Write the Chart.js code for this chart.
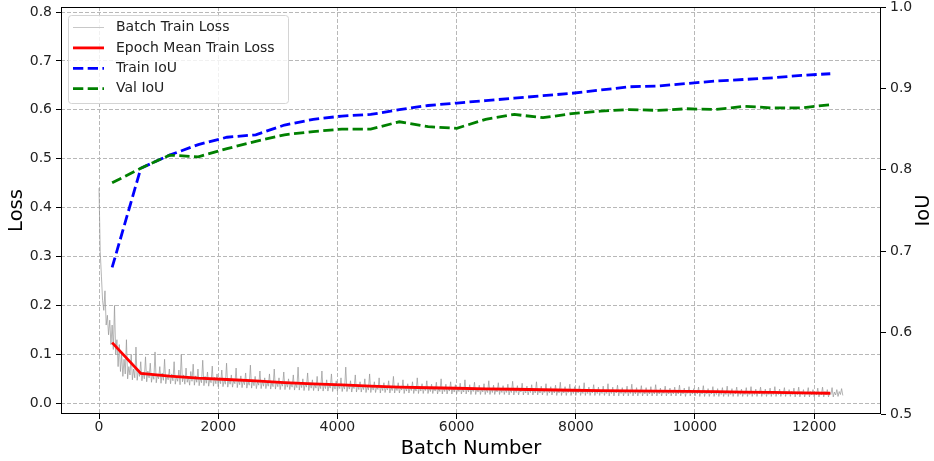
<!DOCTYPE html>
<html>
<head>
<meta charset="utf-8">
<script src="https://cdn.jsdelivr.net/npm/chart.js@4.4.0/dist/chart.umd.min.js"></script>
<style>
  html, body { margin: 0; padding: 0; background: #fff; }
  #wrap { width: 934px; height: 461px; }
</style>
</head>
<body>
<div id="wrap"><canvas id="chart" width="934" height="461"></canvas></div>
<script>
// one batch loss sample every 20 batches (rows of 400 batches)
const batchStep = 20;
const batchLoss = [
  0.44, 0.31, 0.26, 0.21, 0.19, 0.23, 0.16, 0.18, 0.14, 0.17, 0.12, 0.16, 0.11, 0.2, 0.1, 0.13, 0.075, 0.12, 0.065, 0.1,
  0.055, 0.09, 0.06, 0.13, 0.05, 0.075, 0.058, 0.1, 0.048, 0.07, 0.052, 0.115, 0.047, 0.068, 0.055, 0.085, 0.046, 0.064, 0.05, 0.095,
  0.044, 0.066, 0.052, 0.082, 0.043, 0.06, 0.049, 0.105, 0.042, 0.058, 0.05, 0.075, 0.041, 0.062, 0.047, 0.09, 0.04, 0.057, 0.048, 0.07,
  0.04, 0.06, 0.046, 0.085, 0.039, 0.055, 0.045, 0.068, 0.038, 0.1, 0.044, 0.058, 0.039, 0.072, 0.043, 0.054, 0.037, 0.065, 0.045, 0.08,
  0.037, 0.056, 0.043, 0.07, 0.036, 0.052, 0.042, 0.088, 0.036, 0.055, 0.041, 0.064, 0.035, 0.05, 0.042, 0.076, 0.035, 0.053, 0.04, 0.06,
  0.034, 0.052, 0.04, 0.068, 0.034, 0.048, 0.039, 0.082, 0.033, 0.05, 0.039, 0.058, 0.033, 0.047, 0.04, 0.072, 0.032, 0.049, 0.038, 0.056,
  0.032, 0.047, 0.038, 0.062, 0.031, 0.045, 0.037, 0.078, 0.031, 0.048, 0.036, 0.055, 0.03, 0.044, 0.037, 0.066, 0.03, 0.046, 0.035, 0.052,
  0.03, 0.044, 0.035, 0.06, 0.029, 0.043, 0.034, 0.07, 0.029, 0.045, 0.034, 0.052, 0.028, 0.042, 0.035, 0.064, 0.028, 0.044, 0.033, 0.05,
  0.028, 0.042, 0.033, 0.058, 0.027, 0.041, 0.032, 0.074, 0.027, 0.043, 0.032, 0.05, 0.026, 0.04, 0.033, 0.062, 0.026, 0.042, 0.031, 0.048,
  0.026, 0.04, 0.031, 0.055, 0.025, 0.039, 0.03, 0.066, 0.025, 0.041, 0.03, 0.048, 0.025, 0.038, 0.031, 0.06, 0.024, 0.04, 0.029, 0.046,
  0.025, 0.038, 0.03, 0.052, 0.024, 0.037, 0.029, 0.074, 0.024, 0.039, 0.029, 0.046, 0.023, 0.036, 0.03, 0.058, 0.023, 0.038, 0.028, 0.044,
  0.023, 0.036, 0.028, 0.05, 0.022, 0.035, 0.027, 0.06, 0.022, 0.037, 0.027, 0.044, 0.022, 0.034, 0.028, 0.052, 0.021, 0.036, 0.026, 0.042,
  0.022, 0.034, 0.027, 0.046, 0.021, 0.033, 0.026, 0.055, 0.021, 0.035, 0.026, 0.042, 0.021, 0.033, 0.027, 0.048, 0.02, 0.034, 0.025, 0.04,
  0.021, 0.033, 0.026, 0.044, 0.02, 0.032, 0.025, 0.052, 0.02, 0.034, 0.025, 0.04, 0.02, 0.032, 0.026, 0.046, 0.02, 0.033, 0.024, 0.039,
  0.02, 0.032, 0.025, 0.043, 0.019, 0.031, 0.024, 0.05, 0.019, 0.033, 0.024, 0.039, 0.019, 0.031, 0.025, 0.044, 0.019, 0.032, 0.023, 0.038,
  0.019, 0.031, 0.024, 0.041, 0.019, 0.03, 0.023, 0.048, 0.019, 0.032, 0.023, 0.038, 0.018, 0.03, 0.024, 0.043, 0.018, 0.031, 0.023, 0.037,
  0.018, 0.03, 0.023, 0.04, 0.018, 0.029, 0.022, 0.046, 0.018, 0.031, 0.022, 0.037, 0.018, 0.029, 0.023, 0.042, 0.018, 0.03, 0.022, 0.036,
  0.018, 0.029, 0.022, 0.039, 0.017, 0.028, 0.022, 0.045, 0.017, 0.03, 0.022, 0.036, 0.017, 0.028, 0.023, 0.041, 0.017, 0.029, 0.021, 0.035,
  0.017, 0.028, 0.022, 0.038, 0.017, 0.028, 0.021, 0.044, 0.017, 0.029, 0.021, 0.035, 0.017, 0.027, 0.022, 0.04, 0.016, 0.028, 0.021, 0.034,
  0.017, 0.028, 0.021, 0.037, 0.016, 0.027, 0.021, 0.043, 0.016, 0.028, 0.021, 0.034, 0.016, 0.027, 0.022, 0.039, 0.016, 0.028, 0.02, 0.034,
  0.016, 0.027, 0.021, 0.036, 0.016, 0.027, 0.02, 0.042, 0.016, 0.028, 0.02, 0.033, 0.016, 0.026, 0.021, 0.038, 0.016, 0.027, 0.02, 0.033,
  0.016, 0.027, 0.02, 0.035, 0.016, 0.026, 0.02, 0.04, 0.015, 0.027, 0.02, 0.033, 0.015, 0.026, 0.021, 0.037, 0.015, 0.027, 0.02, 0.032,
  0.015, 0.026, 0.02, 0.035, 0.015, 0.026, 0.02, 0.039, 0.015, 0.027, 0.019, 0.032, 0.015, 0.025, 0.02, 0.036, 0.015, 0.026, 0.019, 0.032,
  0.015, 0.026, 0.019, 0.034, 0.015, 0.025, 0.019, 0.038, 0.015, 0.026, 0.019, 0.031, 0.015, 0.025, 0.02, 0.035, 0.015, 0.026, 0.019, 0.031,
  0.015, 0.025, 0.019, 0.033, 0.015, 0.025, 0.019, 0.037, 0.015, 0.026, 0.019, 0.031, 0.014, 0.025, 0.02, 0.034, 0.015, 0.025, 0.019, 0.03,
  0.015, 0.025, 0.019, 0.033, 0.014, 0.025, 0.019, 0.036, 0.014, 0.025, 0.019, 0.03, 0.014, 0.024, 0.019, 0.034, 0.014, 0.025, 0.018, 0.03,
  0.014, 0.025, 0.018, 0.032, 0.014, 0.024, 0.018, 0.035, 0.014, 0.025, 0.018, 0.03, 0.014, 0.024, 0.019, 0.033, 0.014, 0.025, 0.018, 0.029,
  0.014, 0.024, 0.018, 0.032, 0.014, 0.024, 0.018, 0.034, 0.014, 0.025, 0.018, 0.029, 0.014, 0.024, 0.019, 0.033, 0.014, 0.024, 0.018, 0.029,
  0.014, 0.024, 0.018, 0.031, 0.014, 0.024, 0.018, 0.034, 0.014, 0.024, 0.018, 0.029, 0.014, 0.023, 0.018, 0.032, 0.014, 0.024, 0.018, 0.028,
  0.014, 0.024, 0.018, 0.031, 0.013, 0.023, 0.018, 0.033, 0.013, 0.024, 0.018, 0.028, 0.013, 0.023, 0.018, 0.032, 0.013, 0.024, 0.017, 0.028,
  0.013, 0.023, 0.017, 0.031, 0.013, 0.023, 0.017, 0.033, 0.013, 0.024, 0.017, 0.028, 0.013, 0.023, 0.018, 0.032, 0.013, 0.023, 0.017, 0.028,
  0.014, 0.024, 0.018, 0.03, 0.016
];

// one point per epoch
const epochBatch = [220, 702, 1184, 1666, 2148, 2630, 3112, 3594, 4076, 4558, 5040, 5522, 6004,
  6486, 6968, 7450, 7932, 8414, 8896, 9378, 9860, 10342, 10824, 11306, 11788, 12270];
const epochLoss = [0.124, 0.061, 0.0554, 0.0513, 0.0486, 0.0458, 0.0424, 0.0396, 0.0376, 0.0353,
  0.0332, 0.0318, 0.0308, 0.0295, 0.0287, 0.0277, 0.0267, 0.026, 0.0253, 0.025, 0.0243, 0.0237,
  0.023, 0.0222, 0.0213, 0.0205];
const trainIoU = [0.680, 0.802, 0.818, 0.831, 0.840, 0.843, 0.855, 0.862, 0.866, 0.868, 0.874,
  0.879, 0.882, 0.885, 0.888, 0.891, 0.894, 0.898, 0.902, 0.903, 0.906, 0.909, 0.911, 0.913,
  0.916, 0.918];
const valIoU = [0.784, 0.802, 0.818, 0.816, 0.826, 0.835, 0.843, 0.847, 0.850, 0.850, 0.859,
  0.853, 0.851, 0.862, 0.868, 0.864, 0.869, 0.872, 0.874, 0.873, 0.875, 0.874, 0.878, 0.876,
  0.876, 0.880];

const batchTicks = [0, 2000, 4000, 6000, 8000, 10000, 12000];
const lossTicks = [0, 0.1, 0.2, 0.3, 0.4, 0.5, 0.6, 0.7, 0.8];
const iouTicks = [0.5, 0.6, 0.7, 0.8, 0.9, 1.0];

Chart.defaults.font.family = '"DejaVu Sans", sans-serif';
Chart.defaults.color = '#222';

const tickFont = { size: 14 };
const gridColor = '#b8b8b8';

// matplotlib-like box around the plot + right axis label
const frame = {
  id: 'frame',
  afterDatasetsDraw(chart) {
    const { ctx, chartArea: a } = chart;
    ctx.save();
    ctx.strokeStyle = '#000';
    ctx.lineWidth = 1;
    ctx.strokeRect(Math.round(a.left) + 0.5, Math.round(a.top) + 0.5,
      Math.round(a.right - a.left) - 1, Math.round(a.bottom - a.top) - 1);
    ctx.restore();
  },
  afterDraw(chart) {
    const { ctx, chartArea: a } = chart;
    ctx.save();
    ctx.translate(924, (a.top + a.bottom) / 2);
    ctx.rotate(-Math.PI / 2);
    ctx.font = '19.5px "DejaVu Sans"';
    ctx.fillStyle = '#000';
    ctx.textAlign = 'center';
    ctx.textBaseline = 'middle';
    ctx.fillText('IoU', 0, 0);
    ctx.restore();
  }
};

// legend inside the plot, upper left
const insideLegend = {
  id: 'insideLegend',
  afterDraw(chart) {
    const { ctx, chartArea: a } = chart;
    const x = a.left + 7, y = a.top + 8, w = 220, h = 88;
    ctx.save();
    ctx.beginPath();
    ctx.roundRect(x + 0.5, y + 0.5, w, h, 3);
    ctx.fillStyle = 'rgba(255,255,255,0.8)';
    ctx.fill();
    ctx.strokeStyle = '#d4d4d4';
    ctx.lineWidth = 1;
    ctx.stroke();
    ctx.font = '14px "DejaVu Sans"';
    ctx.textBaseline = 'middle';
    chart.data.datasets.forEach((ds, i) => {
      const cy = y + 12.5 + i * 20.4;
      ctx.beginPath();
      ctx.setLineDash(ds.borderDash || []);
      ctx.strokeStyle = ds.legendColor || ds.borderColor;
      ctx.lineWidth = ds.borderWidth;
      ctx.moveTo(x + 5, cy);
      ctx.lineTo(x + 36, cy);
      ctx.stroke();
      ctx.setLineDash([]);
      ctx.fillStyle = '#222';
      ctx.fillText(ds.label, x + 48, cy);
    });
    ctx.restore();
  }
};

const noPadY = s => { s.paddingTop = 0; s.paddingBottom = 0; };

new Chart(document.getElementById('chart'), {
  type: 'line',
  data: {
    datasets: [
      {
        label: 'Batch Train Loss',
        data: batchLoss.map((v, i) => ({ x: i * batchStep, y: v })),
        borderColor: 'rgba(150,150,150,0.7)',
        legendColor: '#c8c8c8',
        borderWidth: 1,
        yAxisID: 'y',
        order: 3
      },
      {
        label: 'Epoch Mean Train Loss',
        data: epochBatch.map((b, i) => ({ x: b, y: epochLoss[i] })),
        borderColor: '#ff0000',
        borderWidth: 2.8,
        yAxisID: 'y',
        order: 2
      },
      {
        label: 'Train IoU',
        data: epochBatch.map((b, i) => ({ x: b, y: trainIoU[i] })),
        borderColor: '#0000ff',
        borderWidth: 2.8,
        borderDash: [10.3, 4.4],
        yAxisID: 'y1',
        order: 1
      },
      {
        label: 'Val IoU',
        data: epochBatch.map((b, i) => ({ x: b, y: valIoU[i] })),
        borderColor: '#008000',
        borderWidth: 2.8,
        borderDash: [10.3, 4.4],
        yAxisID: 'y1',
        order: 0
      }
    ]
  },
  options: {
    responsive: false,
    animation: false,
    devicePixelRatio: 1,
    elements: { point: { radius: 0 }, line: { tension: 0, fill: false } },
    layout: { padding: { top: 7, left: 0, right: 0, bottom: 0 } },
    plugins: { legend: { display: false }, tooltip: { enabled: false } },
    scales: {
      x: {
        type: 'linear',
        min: -638,
        max: 13121,
        afterBuildTicks: s => { s.ticks = batchTicks.map(v => ({ value: v })); },
        afterFit: s => { s.height = 47; },
        ticks: { font: tickFont, padding: 0, maxRotation: 0, autoSkip: false, callback: v => String(v) },
        grid: { color: gridColor, lineWidth: 1, drawTicks: true, tickLength: 5, tickColor: '#000', tickWidth: 1 },
        border: { display: false, dash: [4, 2] },
        title: { display: true, text: 'Batch Number', color: '#000', font: { size: 19.5 }, padding: { top: 0, bottom: 0 } }
      },
      y: {
        position: 'left',
        min: -0.0219,
        max: 0.8103,
        afterBuildTicks: s => { s.ticks = lossTicks.map(v => ({ value: v })); },
        afterFit: s => { s.width = 61; noPadY(s); },
        ticks: { font: tickFont, padding: 4, callback: v => v.toFixed(1) },
        grid: { color: gridColor, lineWidth: 1, drawTicks: true, tickLength: 5, tickColor: '#000', tickWidth: 1 },
        border: { display: false, dash: [4, 2] },
        title: { display: true, text: 'Loss', color: '#000', font: { size: 19.5 }, padding: { top: 5, bottom: 0 } }
      },
      y1: {
        position: 'right',
        min: 0.5,
        max: 1.0,
        afterBuildTicks: s => { s.ticks = iouTicks.map(v => ({ value: v })); },
        afterFit: s => { s.width = 53; noPadY(s); },
        ticks: { font: tickFont, padding: 4, callback: v => v.toFixed(1) },
        grid: { drawOnChartArea: false, drawTicks: true, tickLength: 5, tickColor: '#000', tickWidth: 1 },
        border: { display: false }
      }
    }
  },
  plugins: [frame, insideLegend]
});
</script>
</body>
</html>
